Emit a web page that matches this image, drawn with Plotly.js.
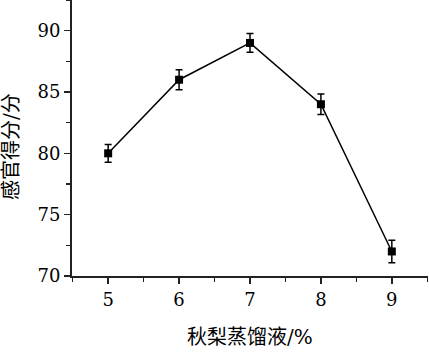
<!DOCTYPE html>
<html><head><meta charset="utf-8">
<script src="https://cdn.plot.ly/plotly-3.0.1.min.js"></script>
<style>html,body{margin:0;padding:0;background:#fff;}</style>
</head><body>
<div id="chart" style="width:429px;height:354px;"></div>
<script>
const xValues = [5, 6, 7, 8, 9];
const scores = [80.0, 86.0, 89.0, 84.0, 72.0];
const errors = [0.72, 0.81, 0.76, 0.83, 0.92];
const xTitle = '秋梨蒸馏液/%';
const yTitle = '感官得分/分';

const fontFam = 'DejaVu Serif';
const titleFam = 'DejaVu Serif, Noto Sans CJK SC';

Plotly.newPlot('chart', [{
  x: xValues, y: scores, type: 'scatter', mode: 'lines+markers',
  line: {color: '#000', width: 1.5},
  marker: {symbol: 'square', size: 8, color: '#000'},
  error_y: {type: 'data', array: errors, visible: true, color: '#000', thickness: 1.5, width: 3.5},
  showlegend: false
}], {
  width: 429, height: 354,
  margin: {l: 72, r: 1, t: 0, b: 78},
  paper_bgcolor: '#fff', plot_bgcolor: '#fff',
  font: {family: fontFam, color: '#000', size: 18},
  xaxis: {
    range: [4.49, 9.51], tickvals: xValues, ticktext: xValues.map(String),
    showgrid: false, zeroline: false, showline: true, linecolor: '#222', linewidth: 2,
    ticks: 'outside', ticklen: 6, tickwidth: 1.5, tickcolor: '#222',
    minor: {ticks: 'outside', ticklen: 4, tickwidth: 1.5, tickcolor: '#222', dtick: 0.5, tick0: 4.5, showgrid: false},
    tickfont: {size: 18, family: fontFam, color: '#000'}
  },
  yaxis: {
    range: [70, 92.5], tickvals: [70, 75, 80, 85, 90],
    showgrid: false, zeroline: false, showline: true, linecolor: '#222', linewidth: 2,
    ticks: 'outside', ticklen: 6, tickwidth: 1.5, tickcolor: '#222',
    minor: {ticks: 'outside', ticklen: 4, tickwidth: 1.5, tickcolor: '#222', dtick: 2.5, tick0: 70, showgrid: false},
    tickfont: {size: 18, family: fontFam, color: '#000'}
  },
  annotations: [
    {text: xTitle, xref: 'paper', yref: 'paper', x: (250 - 72) / 356, y: (354 - 337 - 78) / 276,
     xanchor: 'center', yanchor: 'middle', showarrow: false, font: {size: 20, family: titleFam}},
    {text: yTitle, xref: 'paper', yref: 'paper', x: (11 - 72) / 356, y: (276 - 147) / 276,
     xanchor: 'center', yanchor: 'middle', textangle: -90, showarrow: false, font: {size: 20, family: titleFam}}
  ]
}, {displayModeBar: false, staticPlot: true});
</script>
</body></html>
